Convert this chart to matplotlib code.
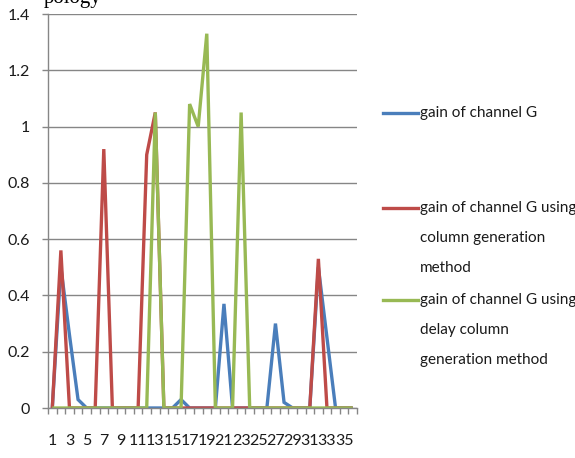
import matplotlib
matplotlib.use('Agg')
import matplotlib.pyplot as plt
from matplotlib.lines import Line2D
from matplotlib.ticker import FixedLocator, NullFormatter

# ── Data ──────────────────────────────────────────────────────────────
categories = list(range(1, 37))

gain_plain = [0, 0.50, 0.26, 0.03, 0, 0, 0, 0, 0, 0,
              0, 0, 0, 0, 0, 0.03, 0, 0, 0, 0,
              0.37, 0, 0, 0, 0, 0, 0.30, 0.02, 0, 0,
              0, 0.50, 0.25, 0, 0, 0]
gain_colgen = [0, 0.56, 0, 0, 0, 0, 0.92, 0, 0, 0,
               0, 0.90, 1.05, 0, 0, 0, 0, 0, 0, 0,
               0, 0, 0, 0, 0, 0, 0, 0, 0, 0,
               0, 0.53, 0, 0, 0, 0]
gain_delay = [0, 0, 0, 0, 0, 0, 0, 0, 0, 0,
              0, 0, 1.05, 0, 0, 0, 1.08, 1.00, 1.33, 0,
              0, 0, 1.05, 0, 0, 0, 0, 0, 0, 0,
              0, 0, 0, 0, 0, 0]

series_names = [['gain of channel G'],
                ['gain of channel G using', 'column generation', 'method'],
                ['gain of channel G using', 'delay column', 'generation method']]
series_colors = ['#4a7ebb', '#be4b48', '#98b954']
y_ticks = [0, 0.2, 0.4, 0.6, 0.8, 1.0, 1.2, 1.4]

# ── Figure ────────────────────────────────────────────────────────────
W, H = 575, 458
fig = plt.figure(figsize=(W / 100, H / 100), dpi=100)
fig.patch.set_facecolor('white')

FONT = 'Lato'
grid_col = '#868686'
txt_col = '#1a1a1a'

ax = fig.add_axes([48 / W, 50 / H, (357 - 48) / W, 394 / H])

for vals, col in zip([gain_plain, gain_colgen, gain_delay], series_colors):
    ax.plot(categories, vals, color=col, lw=2.4, solid_joinstyle='miter',
            solid_capstyle='butt')

ax.set_xlim(0.5, len(categories) + 0.5)
ax.set_ylim(0, 1.4)
ax.set_yticks(y_ticks)
ax.set_yticklabels([f'{v:g}' for v in y_ticks], fontsize=11.5,
                   family=FONT, color=txt_col)
ax.yaxis.grid(True, color=grid_col, lw=1)
ax.set_axisbelow(True)
ax.tick_params(axis='y', length=4, width=1, color=grid_col, pad=9)

# labels on odd categories, tick marks between categories
odd = [c for c in categories if c % 2 == 1]
ax.set_xticks(odd)
ax.set_xticklabels([str(c) for c in odd], fontsize=11.5,
                   family=FONT, color=txt_col)
ax.xaxis.set_minor_locator(FixedLocator([c + 0.5 for c in [0] + categories]))
ax.xaxis.set_minor_formatter(NullFormatter())
ax.tick_params(axis='x', which='major', length=0, pad=19)
ax.tick_params(axis='x', which='minor', length=4, width=1, color=grid_col)

for side in ['top', 'right']:
    ax.spines[side].set_visible(False)
for side in ['left', 'bottom']:
    ax.spines[side].set_color(grid_col)
    ax.spines[side].set_linewidth(1)

# ── Legend (drawn by hand for the wide line spacing) ──────────────────
legend_rows = [113, 208, 300]
line_gap = 30
for rows, col, y0 in zip(series_names, series_colors, legend_rows):
    fig.add_artist(Line2D([383 / W, 418 / W], [1 - y0 / H, 1 - y0 / H],
                          color=col, lw=2.4, transform=fig.transFigure))
    for i, t in enumerate(rows):
        fig.text(420 / W, 1 - (y0 + i * line_gap) / H, t, fontsize=11,
                 family=FONT, color=txt_col, va='center', ha='left')

# tail of the caption line above the chart
fig.text(44 / W, 1 - 3 / H, 'pology', fontsize=15, family='Liberation Serif',
         color='black', va='baseline', ha='left')

fig.savefig('out.png', dpi=100, facecolor='white')
